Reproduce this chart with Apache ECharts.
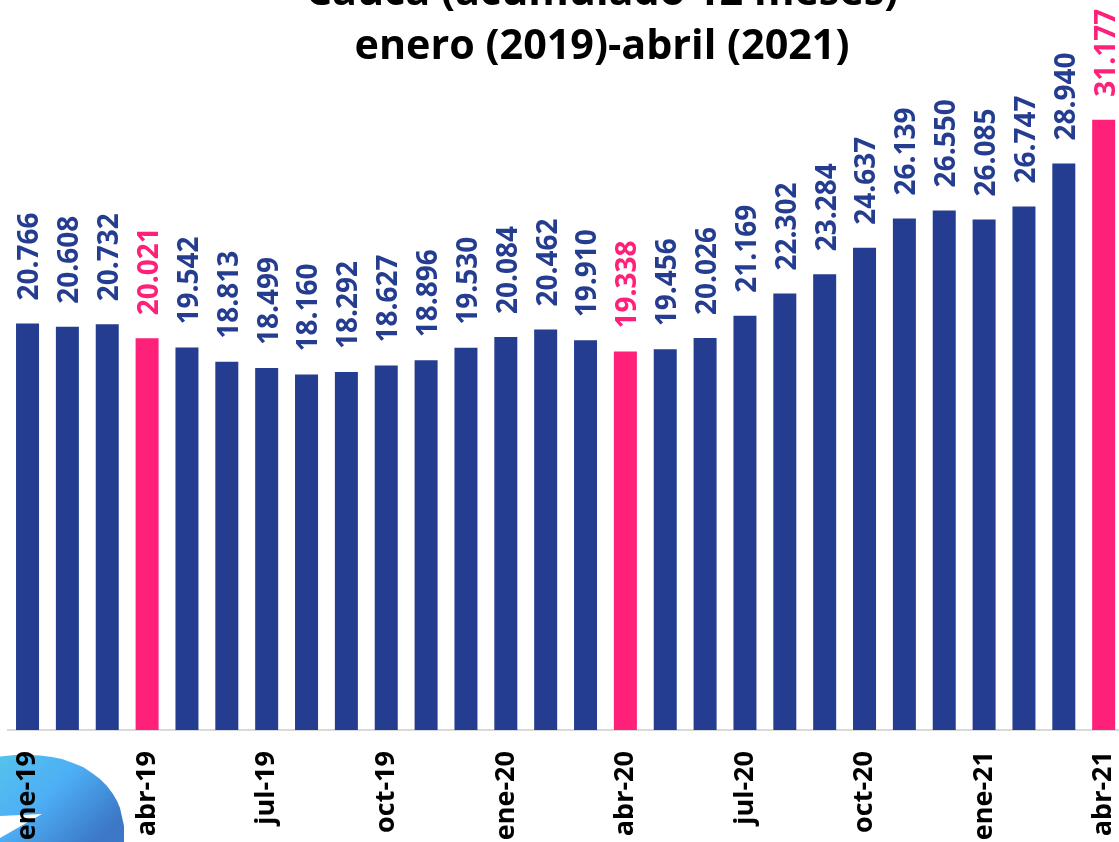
<!DOCTYPE html>
<html><head><meta charset="utf-8">
<style>html,body{margin:0;padding:0;background:#fff;overflow:hidden}#c{width:1119px;height:842px}</style>
<script src="https://cdn.jsdelivr.net/npm/echarts@6/dist/echarts.min.js"></script></head>
<body><div id="c"></div>
<script>
const months = ['ene-19','feb-19','mar-19','abr-19','may-19','jun-19','jul-19','ago-19','sep-19','oct-19','nov-19','dic-19','ene-20','feb-20','mar-20','abr-20','may-20','jun-20','jul-20','ago-20','sep-20','oct-20','nov-20','dic-20','ene-21','feb-21','mar-21','abr-21'];
const values = [20766,20608,20732,20021,19542,18813,18499,18160,18292,18627,18896,19530,20084,20462,19910,19338,19456,20026,21169,22302,23284,24637,26139,26550,26085,26747,28940,31177];
const highlighted = ['abr-19','abr-20','abr-21'];
const titleText = 'Cauca (acumulado 12 meses)\nenero (2019)-abril (2021)';
const navy = '#253D90', pink = '#FF2079';
const fmt = v => String(v).replace(/(\d)(\d{3})$/, '$1.$2');
const chart = echarts.init(document.getElementById('c'));
chart.setOption({
  animation:false,
  backgroundColor:'#fff',
  title:{text:titleText,left:597,top:-39,textAlign:'center',
    textStyle:{fontFamily:'Open Sans',fontWeight:'bold',fontSize:41.3,lineHeight:54,color:'#000'}},
  graphic:[
    {type:'polygon',z:0,shape:{points:[[-5,757],[15,755],[28,755],[40,755.5],[52,757],[62,759],[73,763],[83,767],[92,773],[100,779],[107,786],[113,794],[117,801],[120,808],[122,817],[124,826],[124,850],[-5,850]]},
     style:{fill:new echarts.graphic.LinearGradient(0,0,0.7,1,[{offset:0,color:'#55C4EC'},{offset:0.5,color:'#4DAEF5'},{offset:1,color:'#3C78C6'}])}},
    {type:'polygon',z:0,shape:{points:[[0,816],[42,814],[0,838]]},style:{fill:'#fff'}}
  ],
  grid:{left:7.6,top:45,width:1116,height:685,outerBoundsMode:'none'},
  xAxis:{type:'category',data:months,
    axisLine:{lineStyle:{color:'#d9d9d9',width:2}},axisTick:{show:false},
    axisLabel:{interval:2,rotate:90,margin:21,fontFamily:'Open Sans',fontWeight:'bold',fontSize:27,color:'#000'}},
  yAxis:{type:'value',min:0,max:35000,show:false},
  series:[{type:'bar',barWidth:23,z:5,
    data:values.map((v,i)=>{const c=highlighted.includes(months[i])?pink:navy;
      return {value:v,itemStyle:{color:c},label:{color:c}};}),
    label:{show:true,position:'top',rotate:90,distance:23,offset:[0,3],align:'left',verticalAlign:'middle',
      fontFamily:'Open Sans',fontWeight:'bold',fontSize:28,formatter:p=>fmt(p.value)}}]
});
</script></body></html>
